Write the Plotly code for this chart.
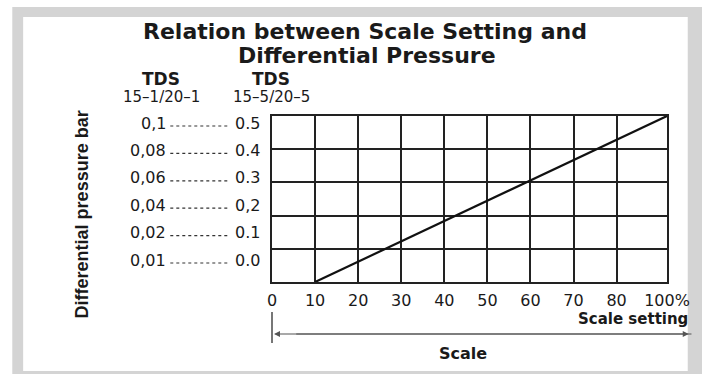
import plotly.graph_objects as go

# ---- data ----
scale_setting = [10, 100]          # % scale setting
pressure = [0.0, 0.5]              # differential pressure (TDS 15-5/20-5 scale)
x_tick_vals = [0, 10, 20, 30, 40, 50, 60, 70, 80, 100]
x_tick_text = ["0", "10", "20", "30", "40", "50", "60", "70", "80", "100%"]
y_grid_vals = [0.0, 0.1, 0.2, 0.3, 0.4, 0.5]
tds1_labels = ["0,1", "0,08", "0,06", "0,04", "0,02", "0,01"]
tds5_labels = ["0.5", "0.4", "0.3", "0,2", "0.1", "0.0"]

# the last column (80 -> 100 %) is drawn compressed on the original chart
LAST_SPAN = 11.7
def axis_pos(p):
    return p if p <= 80 else 80 + (p - 80) * LAST_SPAN / 20.0

# ---- layout geometry (pixels) ----
W, H = 702, 374
L, R, T, B = 272, 672, 116, 282
def px(x):
    return (x - L) / (R - L)
def py(y):
    return (B - y) / (B - T)

FONT = "DejaVu Sans, Verdana, sans-serif"
FONT_N = "Liberation Sans, Arial, sans-serif"
INK = "#1a1a1a"

fig = go.Figure()
fig.add_trace(go.Scatter(
    x=[axis_pos(v) for v in scale_setting], y=pressure,
    mode="lines", line=dict(color="#111111", width=2.2),
    hoverinfo="skip", showlegend=False))

fig.update_xaxes(
    range=[0, axis_pos(100)],
    tickvals=[axis_pos(v) for v in x_tick_vals], ticktext=x_tick_text,
    showgrid=True, gridcolor="#222222", gridwidth=1.6,
    showline=True, linecolor="#222222", linewidth=1.6, mirror=True,
    zeroline=False, ticks="", ticklabelstandoff=3,
    tickfont=dict(family=FONT, size=16, color=INK), fixedrange=True)
fig.update_yaxes(
    range=[0, 0.5], tickvals=y_grid_vals, showticklabels=False,
    showgrid=True, gridcolor="#222222", gridwidth=1.6,
    showline=True, linecolor="#222222", linewidth=1.6, mirror=True,
    zeroline=False, ticks="", fixedrange=True)

shapes = []
# grey frame
shapes.append(dict(type="rect", xref="paper", yref="paper", layer="below",
                   x0=px(9), x1=px(712), y0=py(390), y1=py(7),
                   fillcolor="#d4d4d4", line=dict(width=0)))
shapes.append(dict(type="rect", xref="paper", yref="paper", layer="below",
                   x0=px(20), x1=px(693), y0=py(371), y1=py(17),
                   fillcolor="white", line=dict(width=0)))

annotations = []
# title
annotations.append(dict(text="<b>Relation between Scale Setting and</b>", x=px(366), y=py(31),
                        xref="paper", yref="paper", showarrow=False, xanchor="center", yanchor="middle",
                        font=dict(family=FONT, size=22, color=INK)))
annotations.append(dict(text="<b>Differential Pressure</b>", x=px(368), y=py(56),
                        xref="paper", yref="paper", showarrow=False, xanchor="center", yanchor="middle",
                        font=dict(family=FONT, size=22, color=INK)))
# column headers
for cx, sub in [(160, "15–1/20–1"), (271, "15–5/20–5")]:
    annotations.append(dict(text="<b>TDS</b>", x=px(cx), y=py(79), xref="paper", yref="paper",
                            showarrow=False, xanchor="center", yanchor="middle",
                            font=dict(family=FONT, size=17, color=INK)))
    annotations.append(dict(text=sub, x=px(cx), y=py(97), xref="paper", yref="paper",
                            showarrow=False, xanchor="center", yanchor="middle",
                            font=dict(family=FONT, size=15, color=INK)))
# paired scale labels with dotted leaders
row_y0, row_step = 123, 27.4
for i, (a, b) in enumerate(zip(tds1_labels, tds5_labels)):
    yy = row_y0 + i * row_step
    annotations.append(dict(text=a, x=px(167), y=py(yy), xref="paper", yref="paper",
                            showarrow=False, xanchor="right", yanchor="middle",
                            font=dict(family=FONT, size=16, color=INK)))
    annotations.append(dict(text=b, x=px(232), y=py(yy), xref="paper", yref="paper",
                            showarrow=False, xanchor="left", yanchor="middle",
                            font=dict(family=FONT, size=16, color=INK)))
    shapes.append(dict(type="line", xref="paper", yref="paper",
                       x0=px(169), x1=px(229), y0=py(yy + 3), y1=py(yy + 3),
                       line=dict(color="#333333", width=1.2, dash="dot")))
# y axis title
annotations.append(dict(text="<b>Differential pressure bar</b>", x=px(80), y=py(214),
                        xref="paper", yref="paper", showarrow=False, textangle=-90,
                        xanchor="center", yanchor="middle",
                        font=dict(family=FONT_N, size=18, color=INK)))
# x axis labels
annotations.append(dict(text="<b>Scale setting</b>", x=px(695), y=py(319), xref="paper", yref="paper",
                        showarrow=False, xanchor="right", yanchor="middle",
                        font=dict(family=FONT, size=15, color=INK)))
annotations.append(dict(text="<b>Scale</b>", x=px(465), y=py(353), xref="paper", yref="paper",
                        showarrow=False, xanchor="center", yanchor="middle",
                        font=dict(family=FONT, size=16, color=INK)))
# scale arrow
shapes.append(dict(type="line", xref="paper", yref="paper",
                   x0=px(272), x1=px(272), y0=py(312), y1=py(343),
                   line=dict(color="#777777", width=2)))
annotations.append(dict(x=px(274), y=py(334), ax=693 - 274, ay=0,
                        xref="paper", yref="paper", axref="pixel", ayref="pixel",
                        showarrow=True, arrowhead=2, arrowsize=1, arrowwidth=1.2,
                        arrowcolor="#555555", text=""))
annotations.append(dict(x=px(694), y=py(334), ax=-(694 - 300), ay=0,
                        xref="paper", yref="paper", axref="pixel", ayref="pixel",
                        showarrow=True, arrowhead=2, arrowsize=1, arrowwidth=1.2,
                        arrowcolor="#555555", text=""))

fig.update_layout(
    width=W, height=H,
    margin=dict(l=L, r=W - R, t=T, b=H - B, pad=0),
    paper_bgcolor="white", plot_bgcolor="rgba(0,0,0,0)",
    shapes=shapes, annotations=annotations,
    showlegend=False)

fig.write_html("out.html", config={"displayModeBar": False},
               post_script="document.body.style.margin='0';document.body.style.overflow='hidden';")
